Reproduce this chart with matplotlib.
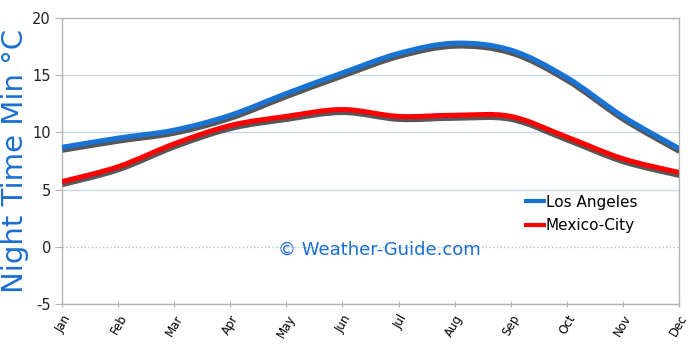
import matplotlib
matplotlib.use('Agg')
import matplotlib.pyplot as plt
import matplotlib.patheffects as pe
from matplotlib.path import Path
from matplotlib.patches import PathPatch
from matplotlib.lines import Line2D
import numpy as np

plt.rcParams['axes.unicode_minus'] = False

### Data
months = ['Jan', 'Feb', 'Mar', 'Apr', 'May', 'Jun', 'Jul', 'Aug', 'Sep', 'Oct', 'Nov', 'Dec']
los_angeles = [8.7, 9.5, 10.2, 11.5, 13.4, 15.2, 16.9, 17.8, 17.2, 14.8, 11.4, 8.6]
mexico_city = [5.7, 7.0, 9.0, 10.6, 11.4, 12.0, 11.4, 11.5, 11.4, 9.6, 7.7, 6.5]

colors = {
    'la': '#1873d6',
    'mx': '#ff0000',
    'grid': '#c8d8ec',
    'axis': '#b4b4b4',
    'text': '#1a6fd0',
}


def smooth_path(xs, ys, tension=0.5):
    # cardinal spline drawn as cubic bezier segments
    xs = np.asarray(xs, float)
    ys = np.asarray(ys, float)
    n = len(xs)
    verts = [(xs[0], ys[0])]
    codes = [Path.MOVETO]
    for i in range(n - 1):
        p0 = (xs[max(i - 1, 0)], ys[max(i - 1, 0)])
        p1 = (xs[i], ys[i])
        p2 = (xs[i + 1], ys[i + 1])
        p3 = (xs[min(i + 2, n - 1)], ys[min(i + 2, n - 1)])
        c1 = (p1[0] + (p2[0] - p0[0]) * tension / 3, p1[1] + (p2[1] - p0[1]) * tension / 3)
        c2 = (p2[0] - (p3[0] - p1[0]) * tension / 3, p2[1] - (p3[1] - p1[1]) * tension / 3)
        verts += [c1, c2, p2]
        codes += [Path.CURVE4] * 3
    return Path(verts, codes)


fig = plt.figure(figsize=(6.9, 3.46), dpi=100)
ax = fig.add_axes([0.0899, 0.1214, 0.894, 0.8266])

x = np.arange(len(months))
shadow = [pe.SimpleLineShadow(offset=(0.3, -2.2), shadow_color='#3a3a3a', alpha=0.85, rho=1),
          pe.Normal()]
for vals, c in [(los_angeles, colors['la']), (mexico_city, colors['mx'])]:
    patch = PathPatch(smooth_path(x, vals), facecolor='none', edgecolor=c,
                      linewidth=3.6, capstyle='butt', path_effects=shadow, zorder=3)
    ax.add_patch(patch)

ax.set_xlim(0, 11)
ax.set_ylim(-5, 20)
ax.set_yticks([-5, 0, 5, 10, 15, 20])
ax.set_xticks(x)
ax.set_xticklabels(months, rotation=60, ha='right', va='top', fontsize=8.5,
                   rotation_mode='anchor')
ax.tick_params(axis='y', labelsize=10.5, length=5, color=colors['axis'], pad=3)
ax.tick_params(axis='x', length=4, direction='inout', color=colors['axis'], pad=4)
for lab in ax.get_yticklabels():
    lab.set_color('#222222')

ax.grid(axis='y', color=colors['grid'], linewidth=1)
ax.set_axisbelow(True)
for s in ['left', 'bottom', 'right', 'top']:
    ax.spines[s].set_color(colors['axis'])
    ax.spines[s].set_linewidth(1.0)
# zero line is dotted in the original
ax.get_ygridlines()[1].set_linestyle(':')
ax.get_ygridlines()[1].set_color('#a9c4e6')

fig.text(0.022, 0.535, 'Night Time Min °C', rotation=90, color=colors['text'],
         fontsize=21, ha='center', va='center')
ax.text(0.515, 0.19, '© Weather-Guide.com', transform=ax.transAxes,
        color=colors['text'], fontsize=13, ha='center', va='center')

handles = [Line2D([], [], color=colors['la'], linewidth=3),
           Line2D([], [], color=colors['mx'], linewidth=3)]
ax.legend(handles, ['Los Angeles', 'Mexico-City'], loc='upper left',
          bbox_to_anchor=(0.73, 0.43), frameon=False, fontsize=11,
          handlelength=1.2, handletextpad=0.1, labelspacing=0.55)

fig.savefig('out.png', dpi=100)
